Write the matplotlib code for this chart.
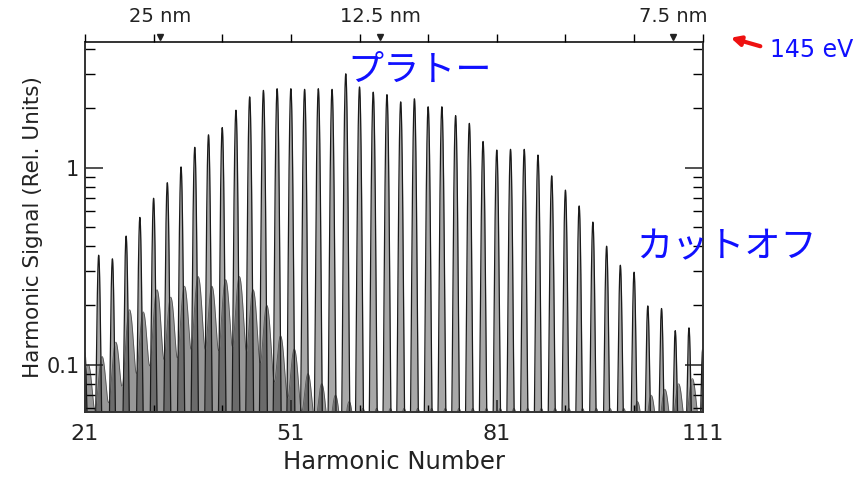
import numpy as np
import matplotlib.pyplot as plt
from matplotlib.ticker import FixedLocator, NullFormatter

# odd harmonics of the 800 nm driver
harmonics = np.arange(21, 112, 2)

# main spectrum: peak heights (rel. units)
main_peaks = [0.085, 0.33, 0.315, 0.42, 0.53, 0.67, 0.81, 0.98, 1.24, 1.44,
              1.57, 1.93, 2.26, 2.44, 2.49, 2.49, 2.47, 2.49, 2.47, 2.97,
              2.54, 2.39, 2.32, 2.13, 2.21, 2.01, 2.01, 1.81, 1.65, 1.33,
              1.20, 1.21, 1.21, 1.13, 0.88, 0.74, 0.61, 0.50, 0.37, 0.29,
              0.265, 0.169, 0.163, 0.119, 0.124, 0.09]

# weaker second spectrum (grey mounds in the lower left)
low_peaks = [0.07, 0.08, 0.10, 0.16, 0.155, 0.21, 0.19, 0.22, 0.25, 0.22,
             0.24, 0.25, 0.21, 0.17, 0.11, 0.09, 0.06, 0.05, 0.04, 0.035,
             0.03, 0.03, 0.03, 0.03, 0.03, 0.03, 0.03, 0.03, 0.03, 0.03,
             0.03, 0.03, 0.03, 0.03, 0.03, 0.03, 0.03, 0.03, 0.03, 0.03,
             0.035, 0.04, 0.045, 0.05, 0.055, 0.06]

x_ticks = [21, 51, 81, 111]
x_minor = [31, 41, 61, 71, 91, 101]
wavelengths = [25, 12.5, 7.5]   # nm, top axis
wl_labels = ["25 nm", "12.5 nm", "7.5 nm"]

BASE = 0.03


def spectrum(x, centers, heights, width, shift=0.0):
    y = np.full_like(x, BASE)
    for q, h in zip(centers, heights):
        y += h * np.exp(-0.5 * ((x - q - shift) / width) ** 2)
    return y


fig = plt.figure(figsize=(8.58, 4.8), dpi=100)
ax = fig.add_axes([0.099, 0.142, 0.720, 0.771])

x = np.linspace(19, 113, 12000)
y_main = spectrum(x, harmonics, main_peaks, 0.19)
y_low = spectrum(x, harmonics, low_peaks, 0.55, shift=0.5)

ax.fill_between(x, BASE, y_main, color="#a8a8a8", lw=0)
ax.plot(x, y_main, color="#1a1a1a", lw=0.9)
ax.fill_between(x, BASE, y_low, color="#303030", alpha=0.5, lw=0)
ax.plot(x, y_low, color="#202020", lw=0.6, alpha=0.6)

ax.set_yscale("log")
ax.set_xlim(21, 111)
ax.set_ylim(0.0577, 4.36)

ax.set_xticks(x_ticks)
ax.xaxis.set_minor_locator(FixedLocator(x_minor))
ax.set_yticks([0.1, 1])
ax.set_yticklabels(["0.1", "1"])
ax.yaxis.set_minor_formatter(NullFormatter())

ax.tick_params(axis="x", which="major", direction="in", length=9, width=1.1,
               labelsize=16, pad=9, colors="#222222")
ax.tick_params(axis="x", which="minor", direction="in", length=5, width=1.0)
ax.tick_params(axis="y", which="major", direction="in", length=13, width=1.1,
               labelsize=15, pad=4, right=True, colors="#222222")
ax.tick_params(axis="y", which="minor", direction="in", length=7, width=1.0, right=True)

for sp in ax.spines.values():
    sp.set_color("#333333")
    sp.set_linewidth(1.4)

ax.set_xlabel("Harmonic Number", fontsize=17.5, color="#222222", labelpad=4)
ax.set_ylabel("Harmonic Signal (Rel. Units)", fontsize=15.5, color="#222222", labelpad=2)

# top axis: wavelength markers
top = ax.twiny()
top.set_xlim(ax.get_xlim())
wl_pos = [800 / w for w in wavelengths]
top.set_xticks(wl_pos)
top.set_xticklabels(wl_labels)
top.xaxis.set_minor_locator(FixedLocator(x_ticks[:1] + x_minor + x_ticks[1:]))
top.tick_params(axis="x", which="major", length=0, labelsize=14, pad=11, colors="#222222")
top.tick_params(axis="x", which="minor", direction="out", length=6, width=1.0)
top.plot(wl_pos, [1.012] * len(wl_pos), "v", color="#222222", ms=5,
         transform=top.get_xaxis_transform(), clip_on=False)
for sp in top.spines.values():
    sp.set_visible(False)

# Japanese annotations
jp = ["Noto Sans CJK JP", "DejaVu Sans"]
fig.text(0.405, 0.853, "プラトー", family=jp, fontsize=26, color="#1010ff", va="center")
fig.text(0.741, 0.485, "カットオフ", family=jp, fontsize=26, color="#1010ff", va="center")
fig.text(0.897, 0.895, "145 eV", fontsize=17, color="#1010ff", va="center")
fig.patches.append(plt.matplotlib.patches.FancyArrowPatch(
    (763 / 858, 1 - 47 / 480), (728 / 858, 1 - 37 / 480),
    transform=fig.transFigure, arrowstyle="-|>", mutation_scale=14,
    color="#ee1111", lw=3))

fig.savefig("out.png", dpi=100)
